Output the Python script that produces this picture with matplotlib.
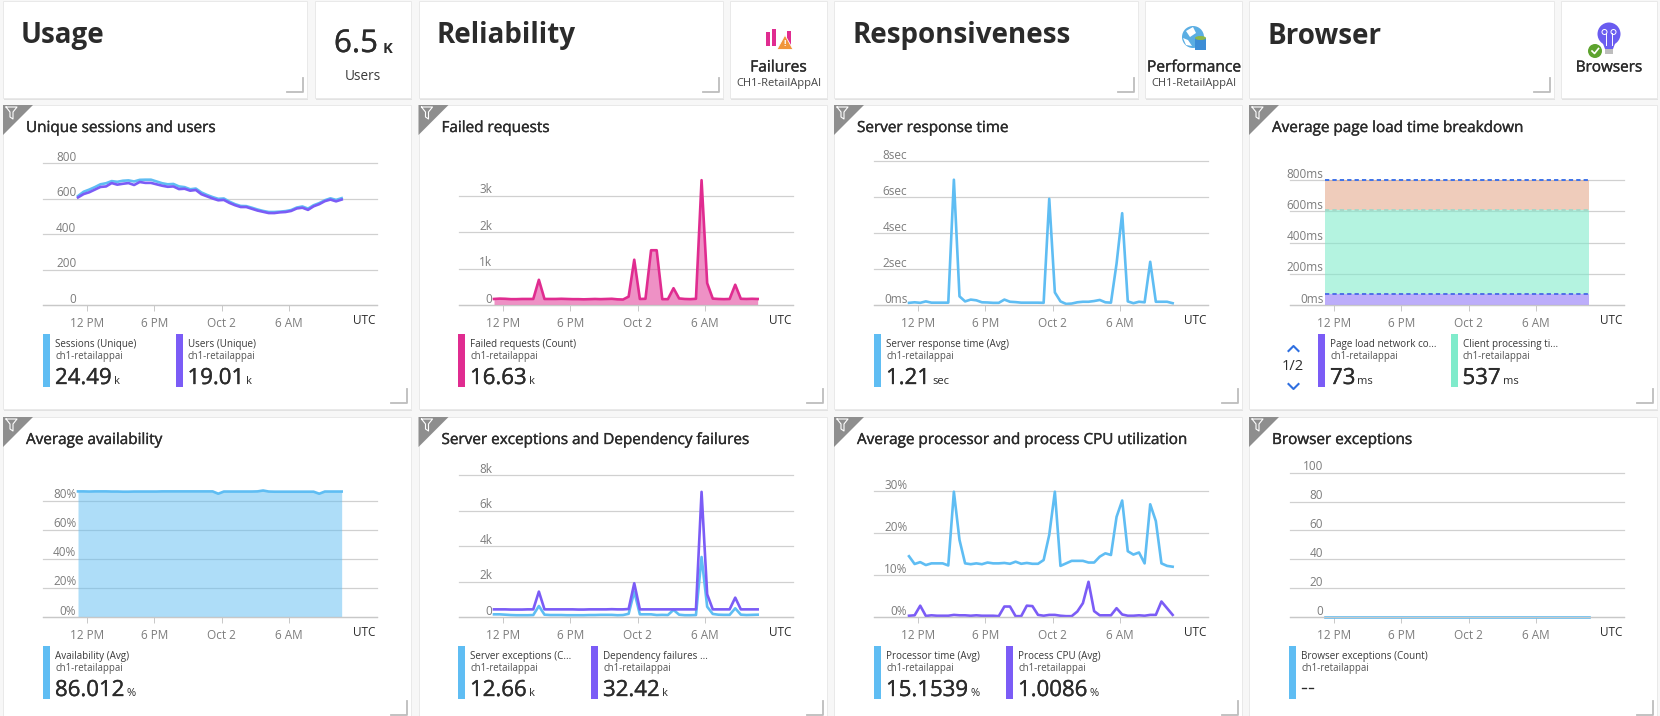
import numpy as np
import matplotlib
matplotlib.use("Agg")
import matplotlib.pyplot as plt
import matplotlib.patheffects as pe
from matplotlib.patches import Rectangle, Polygon, Circle, Ellipse
from matplotlib.transforms import ScaledTranslation

plt.rcParams["font.family"] = ["Open Sans", "DejaVu Sans"]

W, H = 1660, 716

# half hour samples, hours counted from 12 PM
start_hour = -0.8
step_hour = 0.5
tick_hours = [0, 6, 12, 18]
tick_labels = ["12 PM", "6 PM", "Oct 2", "6 AM"]

sessions = [614, 638, 650, 664, 680, 686, 698, 694, 700, 702, 696, 705, 706, 706, 696, 686,
            680, 682, 668, 664, 652, 656, 634, 620, 608, 598, 600, 582, 568, 558,
            557, 548, 538, 530, 524, 524, 526, 529, 535, 549, 555, 543, 562, 574, 590, 601, 592, 602]
users = [606, 625, 635, 650, 665, 668, 687, 678, 683, 687, 676, 693, 688, 688, 680, 672,
         666, 668, 653, 655, 644, 648, 624, 612, 600, 590, 592, 575, 562, 552,
         552, 542, 532, 525, 518, 518, 522, 524, 530, 544, 548, 536, 556, 568, 585, 594, 584, 594]
failed = [165, 175, 170, 160, 160, 165, 165, 165, 690, 165, 165, 165, 170, 165, 160, 160,
          155, 160, 165, 160, 165, 170, 155, 150, 230, 1240, 165, 170, 1500, 1500,
          160, 160, 460, 180, 165, 160, 170, 3420, 600, 175, 165, 160, 165, 555, 170, 165, 170, 165]
response = [0.12, 0.15, 0.12, 0.2, 0.13, 0.13, 0.13, 0.13, 6.96, 0.48, 0.2, 0.3, 0.26, 0.15, 0.14, 0.12,
            0.12, 0.3, 0.18, 0.16, 0.13, 0.13, 0.13, 0.13, 0.12, 5.9, 0.7, 0.2, 0.06, 0.08,
            0.15, 0.18, 0.18, 0.22, 0.28, 0.15, 0.13, 2.3, 5.1, 0.2, 0.1, 0.18, 0.15, 2.4, 0.18, 0.18, 0.18, 0.1]
page_network = [72] * 48
client_processing = [536] * 48
page_other = [192] * 48
availability = [86.4, 86.4, 86.3, 86.4, 86.4, 86.4, 86.3, 86.3, 86.2, 86.2, 86.3, 86.3, 86.3, 86.3, 86.3, 86.4,
                86.4, 86.4, 86.4, 86.4, 86.4, 86.4, 86.4, 86.4, 86.4, 84.8, 86.3, 86.3, 86.3, 86.3,
                86.3, 86.3, 86.4, 87.0, 86.3, 86.2, 86.2, 86.2, 86.2, 86.2, 86.2, 86.2, 86.2, 84.8, 86.3, 86.3, 86.3, 86.3]
server_exceptions = [150, 150, 130, 110, 100, 100, 100, 110, 620, 130, 110, 110, 110, 100, 100, 100,
                     100, 110, 110, 120, 120, 120, 100, 110, 180, 1430, 150, 150, 150, 110,
                     120, 110, 400, 130, 100, 100, 110, 3380, 580, 170, 130, 120, 120, 490, 130, 110, 120, 130]
dependency_failures = [430, 430, 430, 420, 420, 420, 430, 430, 1430, 430, 430, 430, 430, 430, 430, 420,
                       420, 430, 430, 430, 430, 440, 430, 430, 450, 1900, 430, 430, 430, 430,
                       430, 430, 430, 430, 430, 430, 430, 7050, 1280, 430, 430, 430, 430, 1090, 430, 430, 430, 430]
processor = [14.5, 12.65, 13.1, 12.4, 12.8, 12.8, 12.8, 12.3, 29.9, 18.4, 12.8, 12.6, 12.8, 12.6, 13.0, 12.8,
             12.8, 12.9, 12.7, 13.2, 12.7, 12.9, 12.7, 12.7, 13.6, 19.6, 29.9, 12.2, 12.8, 13.4,
             13.4, 13.4, 13.0, 13.0, 14.4, 15.2, 14.8, 23.9, 27.8, 15.7, 14.9, 15.4, 12.8, 26.9, 22.9, 12.8, 12.2, 12.0]
process_cpu = [0.3, 0.4, 2.7, 0.25, 0.4, 0.3, 0.3, 0.3, 0.5, 0.4, 0.4, 0.3, 0.4, 0.3, 0.3, 0.3,
               0.2, 2.5, 2.5, 0.2, 0.2, 2.7, 2.6, 0.5, 0.3, 0.5, 0.5, 0.3, 0.2, 0.2,
               1.3, 3.3, 8.4, 1.4, 0.4, 0.4, 0.4, 2.1, 0.6, 0.3, 0.3, 0.4, 0.3, 0.5, 0.5, 3.7, 2.1, 0.5]
browser_exceptions = [0] * 48

BLUE = "#5FBDF3"
PURPLE = "#7B5CF6"
PINK = "#E02C90"
GRID = "#D0D0D0"
TICK = "#7C7C7C"
DARK = "#2B2B2B"
LW = 1.9

hours = start_hour + step_hour * np.arange(48)

# slightly heavier text, the original font is a bit darker than Open Sans regular
heavy = [pe.withStroke(linewidth=0.25, foreground=DARK)]

fig = plt.figure(figsize=(W / 100, H / 100), dpi=100, facecolor="#F7F7F7")
bg = fig.add_axes([0, 0, 1, 1])
bg.set_xlim(0, W)
bg.set_ylim(H, 0)
bg.axis("off")


def tile(x0, x1, y0, y1, corner=True):
    bg.add_patch(Rectangle((x0 + 1, y0 + 2), x1 - x0, y1 - y0, fc="#E2E2E2", ec="none", zorder=1))
    r = Rectangle((x0, y0), x1 - x0, y1 - y0, fc="white", ec="#E9E9E9", lw=0.7, zorder=2)
    bg.add_patch(r)
    if corner:
        bg.plot([x1 - 20, x1 - 4, x1 - 4], [y1 - 6, y1 - 6, y1 - 20], color="#BDBDBD", lw=1.3, zorder=3)
    return r


def funnel(x, y):
    bg.add_patch(Polygon([(x, y), (x + 30, y), (x, y + 30)], fc="#8E8E8E", ec="none", zorder=3))
    bg.plot([x + 3, x + 14, x + 10, x + 10, x + 7, x + 7, x + 3],
            [y + 2, y + 2, y + 7, y + 14, y + 12, y + 7, y + 2], color="white", lw=0.8, zorder=4)


def chart(x, y0, y_top, ymax, yticks, ylabels):
    ax = fig.add_axes([x / W, 1 - y0 / H, 334 / W, (y0 - y_top) / H])
    ax.patch.set_alpha(0)
    ax.set_xlim(-3.92, 25.85)
    ax.set_ylim(0, ymax)
    for s in ["top", "left", "right"]:
        ax.spines[s].set_visible(False)
    ax.spines["bottom"].set_color("#C8C8C8")
    ax.spines["bottom"].set_linewidth(0.9)
    ax.set_yticks(yticks)
    ax.set_yticklabels(ylabels, va="bottom")
    ax.tick_params(axis="y", length=0, pad=-24, labelsize=8.5, labelcolor=TICK)
    shift = ScaledTranslation(0, -0.4 / 72, fig.dpi_scale_trans)
    for lab in ax.get_yticklabels():
        lab.set_transform(lab.get_transform() + shift)
    ax.set_xticks(tick_hours)
    ax.set_xticklabels(tick_labels)
    ax.tick_params(axis="x", length=4, width=0.7, color="#C8C8C8", pad=4.4, labelsize=8.5, labelcolor=TICK)
    ax.grid(axis="y", color=GRID, lw=0.9, zorder=0, clip_on=False)
    ax.set_axisbelow(True)
    bg.text(x + 321, y0 + 16, "UTC", fontsize=8.5, color=DARK, ha="center", va="center", zorder=5)
    return ax


def legend(x, y, color, name, value, unit):
    bg.add_patch(Rectangle((x, y), 7, 52.5, fc=color, ec="none", zorder=4))
    bg.text(x + 12, y + 11, name, fontsize=7.1, color="#3A3A3A", va="center", zorder=5)
    bg.text(x + 12, y + 22.5, "ch1-retailappai", fontsize=6.9, color="#555555", va="center", zorder=5)
    t = bg.text(x + 12, y + 50, value, fontsize=16, color=DARK, va="baseline", zorder=5, path_effects=heavy)
    box = t.get_window_extent(renderer=fig.canvas.get_renderer())
    bg.text(box.x1 + 2, y + 50, unit, fontsize=8, color=DARK, va="baseline", zorder=5)


def header(x0, x1, title):
    tile(x0, x1, 1, 98)
    bg.text(x0 + 18, 36, title, fontsize=20, fontweight="bold", color=DARK, va="center", zorder=5)


# top row
header(3, 307, "Usage")
header(418.5, 723, "Reliability")
header(834, 1138, "Responsiveness")
header(1249, 1554, "Browser")

tile(315, 411, 1, 98, corner=False)
tile(730, 827, 1, 98, corner=False)
perf_tile = tile(1145, 1242, 1, 98, corner=False)
tile(1561, 1657, 1, 98, corner=False)

bg.text(334, 44, "6.5", fontsize=22.5, color=DARK, va="center", zorder=5, path_effects=heavy)
bg.text(383, 49, "K", fontsize=10.5, fontweight="bold", color=DARK, va="center", zorder=5)
bg.text(363, 77, "Users", fontsize=9.8, color="#3A3A3A", ha="center", va="center", zorder=5)

# failures icon
for bx, by, bw in [(766, 32, 3.5), (772, 29, 4), (787, 31, 3.5)]:
    bg.add_patch(Rectangle((bx, by), bw, 46 - by, fc=PINK, ec="none", zorder=5))
bg.add_patch(Polygon([(777, 49.5), (793, 49.5), (785, 35)], fc="#F0953A", ec="white", lw=0.6, zorder=6))
bg.text(785, 44, "!", fontsize=6, fontweight="bold", color="white", ha="center", va="center", zorder=7)
bg.text(778.5, 67.5, "Failures", fontsize=11.2, color=DARK, ha="center", va="center", zorder=5, path_effects=heavy)
bg.text(778.5, 83.5, "CH1-RetailAppAI", fontsize=8, color="#444444", ha="center", va="center", zorder=5)

# performance icon
bg.add_patch(Circle((1193, 37), 11, fc="#5BAEE3", ec="none", zorder=5))
bg.add_patch(Polygon([(1186, 31), (1193, 27), (1196, 33), (1190, 37)], fc="white", ec="none", zorder=6))
bg.add_patch(Polygon([(1183, 38), (1188, 40), (1192, 46), (1186, 45)], fc="white", ec="none", zorder=6))
bg.add_patch(Rectangle((1195, 38), 11, 12, fc="#3C8DD6", ec="none", zorder=7))
bg.add_patch(Ellipse((1200.5, 38), 11, 4, fc="#8DB84A", ec="none", zorder=8))
perf = bg.text(1194, 67.5, "Performance", fontsize=11.2, color=DARK, ha="center", va="center", zorder=5, path_effects=heavy)
perf.set_clip_path(perf_tile)
bg.text(1194, 83.5, "CH1-RetailAppAI", fontsize=8, color="#444444", ha="center", va="center", zorder=5)

# browsers icon
bg.add_patch(Circle((1609, 34), 11.5, fc="#6A5CF0", ec="none", zorder=5))
bg.add_patch(Polygon([(1602, 41), (1616, 41), (1613, 49), (1605, 49)], fc="#6A5CF0", ec="none", zorder=5))
bg.add_patch(Rectangle((1605, 49), 8, 5, fc="#BDBDBD", ec="none", zorder=5))
bg.plot([1606, 1606], [33, 45], color="white", lw=0.7, zorder=6)
bg.plot([1612, 1612], [33, 45], color="white", lw=0.7, zorder=6)
bg.add_patch(Circle((1604.5, 32), 2.5, fc="none", ec="white", lw=0.7, zorder=6))
bg.add_patch(Circle((1613.5, 32), 2.5, fc="none", ec="white", lw=0.7, zorder=6))
bg.add_patch(Circle((1595, 51), 7, fc="#5DA32E", ec="none", zorder=7))
bg.plot([1592, 1594.5, 1598.5], [51, 53.5, 48.5], color="white", lw=1.2, zorder=8)
bg.text(1609, 68, "Browsers", fontsize=11, color=DARK, ha="center", va="center", zorder=5, path_effects=heavy)

# chart tiles
col_tiles = [(3, 411), (418.5, 827), (834, 1242), (1249, 1657)]
col_titles = [["Unique sessions and users", "Average availability"],
              ["Failed requests", "Server exceptions and Dependency failures"],
              ["Server response time", "Average processor and process CPU utilization"],
              ["Average page load time breakdown", "Browser exceptions"]]
for (x0, x1), titles in zip(col_tiles, col_titles):
    for (y0, y1), title in zip([(105, 409), (417, 721)], titles):
        tile(x0, x1, y0, y1)
        funnel(x0, y0)
        bg.text(x0 + 23, y0 + 23.5, title, fontsize=11, color=DARK, va="center", zorder=5, path_effects=heavy)

X_COLS = [43, 459, 874, 1290]

# row 1
ax = chart(X_COLS[0], 305, 163, 800, [0, 200, 400, 600, 800], ["0", "200", "400", "600", "800"])
ax.plot(hours, sessions, color=BLUE, lw=LW)
ax.plot(hours, users, color=PURPLE, lw=LW)
legend(43, 334, BLUE, "Sessions (Unique)", "24.49", "k")
legend(175.5, 334, PURPLE, "Users (Unique)", "19.01", "k")

ax = chart(X_COLS[1], 305, 195.5, 3000, [0, 1000, 2000, 3000], ["0", "1k", "2k", "3k"])
ax.fill_between(hours, failed, color=PINK, alpha=0.52, lw=0, clip_on=False, zorder=2)
ax.plot(hours, failed, color=PINK, lw=LW, clip_on=False, zorder=3)
legend(458, 334, PINK, "Failed requests (Count)", "16.63", "k")

ax = chart(X_COLS[2], 305, 161, 8, [0, 2, 4, 6, 8], ["0ms", "2sec", "4sec", "6sec", "8sec"])
ax.plot(hours, response, color=BLUE, lw=LW)
legend(874, 334, BLUE, "Server response time (Avg)", "1.21", "sec")

ax = chart(X_COLS[3], 305, 180, 800, [0, 200, 400, 600, 800], ["0ms", "200ms", "400ms", "600ms", "800ms"])
s1 = np.array(page_network)
s2 = s1 + np.array(client_processing)
s3 = s2 + np.array(page_other)
ax.fill_between(hours, 0, s1, color=PURPLE, alpha=0.5, lw=0, zorder=2)
ax.fill_between(hours, s1, s2, color="#7FEBCB", alpha=0.58, lw=0, zorder=2)
ax.fill_between(hours, s2, s3, color="#E09A78", alpha=0.5, lw=0, zorder=2)
ax.plot(hours, s1, color="#4F6FE8", lw=1.4, ls=(0, (2.2, 1.6)), zorder=3)
ax.plot(hours, s2, color="#A6D8C8", lw=1.4, ls=(0, (2.2, 1.6)), zorder=3)
ax.plot(hours, s3, color="#3E72E8", lw=1.4, ls=(0, (2.2, 1.6)), clip_on=False, zorder=3)
legend(1318, 334, PURPLE, "Page load network co...", "73", "ms")
legend(1450.5, 334, "#7FEBCB", "Client processing ti...", "537", "ms")
bg.text(1293, 366, "1/2", fontsize=10.5, color=DARK, ha="center", va="center", zorder=5)
bg.plot([1288.5, 1293.5, 1298.5], [351, 346, 351], color="#2F6FE0", lw=1.5, zorder=5)
bg.plot([1288.5, 1293.5, 1298.5], [384, 389, 384], color="#2F6FE0", lw=1.5, zorder=5)

# row 2
ax = chart(X_COLS[0], 617, 500.7, 80, [0, 20, 40, 60, 80], ["0%", "20%", "40%", "60%", "80%"])
ax.fill_between(hours, availability, color=BLUE, alpha=0.5, lw=0, clip_on=False, zorder=2)
ax.plot(hours, availability, color=BLUE, lw=LW, clip_on=False, zorder=3)
legend(43, 646, BLUE, "Availability (Avg)", "86.012", "%")

ax = chart(X_COLS[1], 617, 475, 8000, [0, 2000, 4000, 6000, 8000], ["0", "2k", "4k", "6k", "8k"])
ax.plot(hours, server_exceptions, color=BLUE, lw=LW)
ax.plot(hours, dependency_failures, color=PURPLE, lw=LW)
legend(458, 646, BLUE, "Server exceptions (C...", "12.66", "k")
legend(591, 646, PURPLE, "Dependency failures ...", "32.42", "k")

ax = chart(X_COLS[2], 617, 491.3, 30, [0, 10, 20, 30], ["0%", "10%", "20%", "30%"])
ax.plot(hours, processor, color=BLUE, lw=LW, clip_on=False)
ax.plot(hours, process_cpu, color=PURPLE, lw=LW)
legend(874, 646, BLUE, "Processor time (Avg)", "15.1539", "%")
legend(1006, 646, PURPLE, "Process CPU (Avg)", "1.0086", "%")

ax = chart(X_COLS[3], 617, 472.7, 100, [0, 20, 40, 60, 80, 100], ["0", "20", "40", "60", "80", "100"])
ax.plot(hours, browser_exceptions, color=BLUE, lw=LW, clip_on=False)
bg.add_patch(Rectangle((1289, 646), 7, 52.5, fc=BLUE, ec="none", zorder=4))
bg.text(1301, 657, "Browser exceptions (Count)", fontsize=7.1, color="#3A3A3A", va="center", zorder=5)
bg.text(1301, 668.5, "ch1-retailappai", fontsize=6.9, color="#555555", va="center", zorder=5)
bg.text(1301, 689, "--", fontsize=16, color=DARK, va="center", zorder=5, path_effects=heavy)

fig.savefig("out.png", dpi=100, facecolor=fig.get_facecolor())
